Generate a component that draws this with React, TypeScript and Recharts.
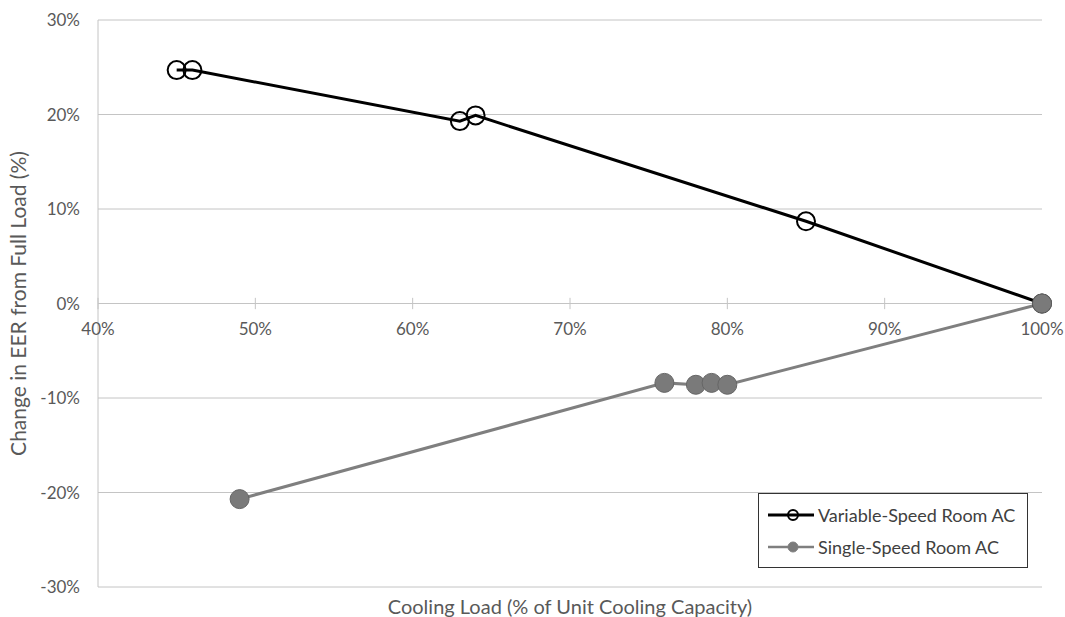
import React from "react";
import {
  LineChart,
  Line,
  XAxis,
  YAxis,
  CartesianGrid,
  ReferenceLine,
} from "recharts";

const variableLoad = [45, 46, 63, 64, 85, 100];
const variableEer = [24.7, 24.7, 19.3, 19.9, 8.7, 0];

const singleLoad = [49, 76, 78, 79, 80, 100];
const singleEer = [-20.7, -8.4, -8.6, -8.4, -8.6, 0];

const xTicks = [40, 50, 60, 70, 80, 90, 100];
const yTicks = [-30, -20, -10, 0, 10, 20, 30];

const variableData = variableLoad.map((x, i) => ({ x, y: variableEer[i] }));
const singleData = singleLoad.map((x, i) => ({ x, y: singleEer[i] }));

const FONT = "Lato, 'Open Sans', sans-serif";
const GRID = "#c4c4c4";
const TEXT = "#595959";

const legendItems = [
  { name: "Variable-Speed Room AC", stroke: "#000", fill: "none", w: 3 },
  { name: "Single-Speed Room AC", stroke: "#7f7f7f", fill: "#7a7a7a", w: 2.5 },
];

// legend box sits inside the plot, lower right
const LegendBox = () => (
  <div
    style={{
      position: "absolute",
      left: 758,
      top: 493,
      width: 270,
      height: 75,
      border: "1.5px solid #333",
      background: "#fff",
      padding: "5px 8px",
      fontFamily: FONT,
      fontSize: 18,
      color: "#404040",
      boxSizing: "border-box",
    }}
  >
    {legendItems.map((e) => (
      <div
        key={e.name}
        style={{ display: "flex", alignItems: "center", height: 32 }}
      >
        <svg width={48} height={16} style={{ marginRight: 3 }}>
          <line x1={1} y1={8} x2={47} y2={8} stroke={e.stroke} strokeWidth={e.w} />
          <circle
            cx={26}
            cy={8}
            r={5}
            fill={e.fill}
            stroke={e.stroke}
            strokeWidth={e.fill === "none" ? 2 : 1}
          />
        </svg>
        <span>{e.name}</span>
      </div>
    ))}
  </div>
);

export default function App() {
  return (
    <div
      style={{
        position: "absolute",
        left: 0,
        top: 0,
        width: 1065,
        height: 617,
        background: "#fff",
      }}
    >
      <LineChart
        width={1065}
        height={617}
        margin={{ top: 20, right: 23, bottom: 0, left: 0 }}
      >
        <CartesianGrid horizontal vertical={false} stroke={GRID} />
        <XAxis
          type="number"
          dataKey="x"
          domain={[40, 100]}
          ticks={xTicks}
          tick={false}
          axisLine={false}
          tickLine={false}
          height={30}
          label={{
            value: "Cooling Load (% of Unit Cooling Capacity)",
            position: "insideBottom",
            offset: 3,
            style: { fill: TEXT, fontFamily: FONT, fontSize: 20 },
          }}
        />
        <YAxis
          type="number"
          dataKey="y"
          domain={[-30, 30]}
          ticks={yTicks}
          width={98}
          tickSize={0}
          tickMargin={18}
          tickFormatter={(v) => `${v}%`}
          axisLine={{ stroke: GRID }}
          tickLine={false}
          tick={{ fill: TEXT, fontFamily: FONT, fontSize: 17 }}
          label={{
            value: "Change in EER from Full Load (%)",
            angle: -90,
            position: "insideLeft",
            offset: 19,
            style: {
              fill: TEXT,
              fontFamily: FONT,
              fontSize: 21,
              textAnchor: "middle",
            },
          }}
        />
        <ReferenceLine y={0} stroke={GRID} />
        {xTicks.map((t) => (
          <ReferenceLine
            key={t}
            segment={[
              { x: t, y: -0.6 },
              { x: t, y: 0.6 },
            ]}
            stroke={GRID}
            label={{
              value: `${t}%`,
              position: "bottom",
              offset: 14,
              style: { fill: TEXT, fontFamily: FONT, fontSize: 17 },
            }}
          />
        ))}
        <Line
          data={variableData}
          dataKey="y"
          name="Variable-Speed Room AC"
          stroke="#000"
          strokeWidth={3}
          dot={{ r: 9, stroke: "#000", strokeWidth: 2, fill: "none" }}
          isAnimationActive={false}
        />
        <Line
          data={singleData}
          dataKey="y"
          name="Single-Speed Room AC"
          stroke="#7f7f7f"
          strokeWidth={3}
          dot={{ r: 9.5, stroke: "#666", strokeWidth: 1, fill: "#7a7a7a" }}
          isAnimationActive={false}
        />
      </LineChart>
      <LegendBox />
    </div>
  );
}
